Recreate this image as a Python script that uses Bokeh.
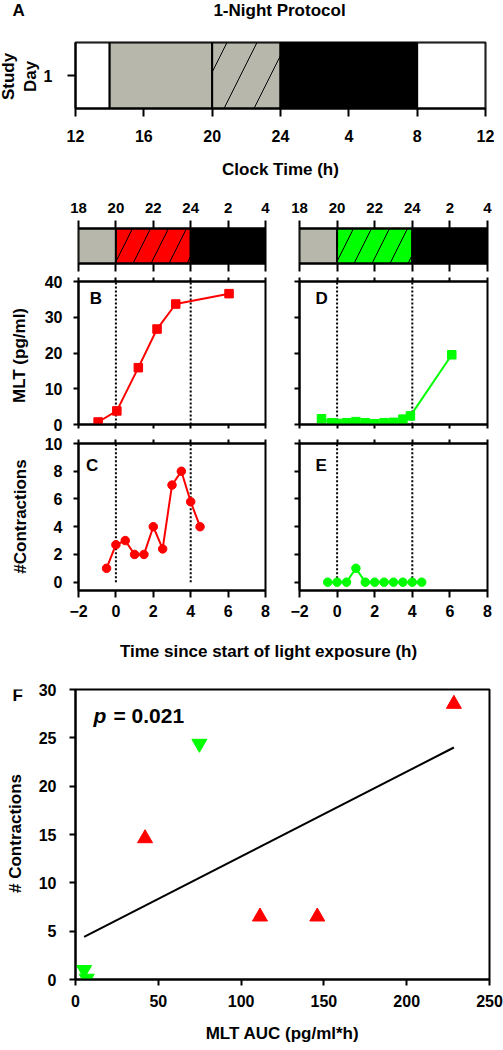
import math
from bokeh.plotting import figure
from bokeh.models import Range1d, LinearAxis, FixedTicker, Label, ColumnDataSource
from bokeh.layouts import column, row
from bokeh.embed import file_html
from bokeh.resources import INLINE
from bokeh.core.properties import value

FONT = "Liberation Sans"
GRAY = "#b7b7ab"
RED = "#ff0000"
GREEN = "#00ff00"

# ---------------- data ----------------
# Panel A: 1-night protocol (clock hours, 24 = midnight, 28 = 4 h, 32 = 8 h)
a_start = [12, 14, 20, 24, 32]
a_end = [14, 20, 24, 32, 36]
a_kind = ["none", "dim", "dim_light", "dark", "none"]
a_ticks = [12, 16, 20, 24, 28, 32, 36]
a_tick_labels = ["12", "16", "20", "24", "4", "8", "12"]

# header bars above B/D and C/E (clock hours)
h_start = [18, 20, 24]
h_end = [20, 24, 28]
h_kind = ["dim", "light", "dark"]
h_ticks = [18, 20, 22, 24, 26, 28]
h_tick_labels = ["18", "20", "22", "24", "2", "4"]

# start / end of light exposure (h since start)
light_window = [0, 4]
t_ticks = [-2, 0, 2, 4, 6, 8]

# B: melatonin, red light
b_t = [-0.95, 0.05, 1.2, 2.2, 3.2, 6.05]
b_mlt = [0.7, 3.8, 15.9, 26.7, 33.7, 36.6]
# D: melatonin, green light
d_t = [-0.83, -0.3, 0.0, 0.5, 1.0, 1.5, 2.0, 2.5, 3.0, 3.5, 3.9, 6.1]
d_mlt = [1.6, 0.5, 0.3, 0.5, 0.8, 0.5, 0.2, 0.5, 0.6, 1.5, 2.4, 19.5]
# C: contractions, red light
c_t = [-0.5, 0.0, 0.5, 1.0, 1.5, 2.0, 2.5, 3.0, 3.5, 4.0, 4.5]
c_n = [1.0, 2.7, 3.0, 2.0, 2.0, 4.0, 2.4, 7.0, 8.0, 5.8, 4.0]
# E: contractions, green light
e_t = [-0.5, 0.0, 0.5, 1.0, 1.5, 2.0, 2.5, 3.0, 3.5, 4.0, 4.5]
e_n = [0, 0, 0, 1, 0, 0, 0, 0, 0, 0, 0]

# F: contractions vs melatonin AUC
f_red_auc = [228.5, 42.0, 111.4, 146.0]
f_red_n = [28.5, 14.6, 6.5, 6.5]
f_green_auc = [74.8, 5.2, 6.8]
f_green_n = [24.4, 1.0, 0.1]
fit_auc = [5.2, 228.5]
fit_n = [4.4, 24.0]
f_xticks = [0, 50, 100, 150, 200, 250]
f_yticks = [0, 5, 10, 15, 20, 25, 30]


# ---------------- helpers ----------------
def make_fig(width, height, xr, yr, left, right, top, bottom):
    p = figure(width=width, height=height, x_range=Range1d(*xr), y_range=Range1d(*yr),
               x_axis_location=None, y_axis_location=None, toolbar_location=None,
               output_backend="svg", tools="", title=None, min_border=0,
               min_border_left=left, min_border_right=right,
               min_border_top=top, min_border_bottom=bottom)
    p.grid.visible = False
    p.outline_line_color = "black"
    p.outline_line_width = 2
    p.background_fill_color = "white"
    p.border_fill_color = "white"
    return p


def strip(width, height, x0, x1, y_top, y_bottom):
    # plain text area; its frame maps page pixels (y downwards)
    p = figure(width=width, height=height, x_range=Range1d(x0, x1), y_range=Range1d(y_bottom, y_top),
               x_axis_location=None, y_axis_location=None, toolbar_location=None,
               output_backend="svg", tools="", title=None, min_border=0,
               min_border_left=0, min_border_right=0, min_border_top=0, min_border_bottom=0)
    p.grid.visible = False
    p.outline_line_color = None
    p.background_fill_color = "white"
    p.border_fill_color = "white"
    return p


def gtext(p, x, y, txt, size="17px", align="center", angle=0.0, style="bold"):
    p.text(x=[x], y=[y], text=[txt], angle=angle, text_font=value(FONT),
           text_font_style=style, text_font_size=size, text_align=align,
           text_baseline="middle", text_color="black")


def add_axis(p, place, ticks, labels=None, tick_out=5, tick_in=0, size="16px",
             standoff=5, axis_label=None, al_standoff=5, al_size="17px"):
    ax = LinearAxis(ticker=FixedTicker(ticks=ticks, minor_ticks=[]))
    ax.axis_line_width = 2
    ax.axis_line_color = "black"
    ax.major_tick_line_width = 2
    ax.major_tick_line_color = "black"
    ax.major_tick_out = tick_out
    ax.major_tick_in = tick_in
    ax.minor_tick_line_color = None
    ax.major_label_text_font = FONT
    ax.major_label_text_font_style = "bold"
    ax.major_label_text_color = "black"
    ax.major_label_text_font_size = size
    ax.major_label_standoff = standoff
    if labels == "none":
        ax.major_label_overrides = {t: "" for t in ticks}
        ax.major_label_text_font_size = "0px"
        ax.major_label_standoff = 0
    elif labels is not None:
        ax.major_label_overrides = {t: l for t, l in zip(ticks, labels)}
    if axis_label is not None:
        ax.axis_label = axis_label
        ax.axis_label_text_font = FONT
        ax.axis_label_text_font_style = "bold"
        ax.axis_label_text_font_size = al_size
        ax.axis_label_text_color = "black"
        ax.axis_label_standoff = al_standoff
    p.add_layout(ax, place)
    return ax


def inner_text(p, x, y, txt, size="17px", style="bold"):
    p.add_layout(Label(x=x, y=y, text=txt, text_font=FONT, text_font_style=style,
                       text_font_size=size, text_align="left", text_baseline="middle",
                       text_color="black"))


def bar_source(start, end, kind, light_color):
    fills = {"none": "white", "dim": GRAY, "dim_light": GRAY, "light": light_color, "dark": "black"}
    hatches = {"none": " ", "dim": " ", "dim_light": "/", "light": "/", "dark": " "}
    return ColumnDataSource(dict(left=start, right=end,
                                 fill=[fills[k] for k in kind],
                                 hatch=[hatches[k] for k in kind]))


VERT = math.pi / 2

# ---------------- panel A ----------------
sA = strip(503, 24, 0, 503, 0, 24)
gtext(sA, 12, 10, "A", size="17px", align="left")
gtext(sA, 279, 10, "1-Night Protocol", size="17px", align="center")

gA = strip(40, 161, 0, 40, 42, 108)      # frame is aligned with panel A's frame
gtext(gA, 8, 76, "Study", angle=VERT)
gtext(gA, 30, 76, "Day", angle=VERT)

pA = make_fig(463, 161, (12, 36), (0.5, 1.5), 33, 18, 18, 77)
srcA = bar_source(a_start, a_end, a_kind, GRAY)
pA.quad(left="left", right="right", bottom=0.5, top=1.5, source=srcA,
        fill_color="fill", hatch_pattern="hatch", hatch_color="black",
        hatch_scale=60, hatch_weight=1, line_color="black", line_width=2)
add_axis(pA, "below", a_ticks, labels=a_tick_labels, tick_out=8, size="16px",
         standoff=13, axis_label="Clock Time (h)", al_standoff=15)
add_axis(pA, "left", [1], labels=["1"], tick_out=8, size="16px", standoff=15)


# ---------------- header bars ----------------
def header(width, left, right, light_color):
    p = make_fig(width, 88, (18, 28), (0, 1), left, right, 43, 10)
    src = bar_source(h_start, h_end, h_kind, light_color)
    p.quad(left="left", right="right", bottom=0, top=1, source=src,
           fill_color="fill", hatch_pattern="hatch", hatch_color="black",
           hatch_scale=36, hatch_weight=1, line_color="black", line_width=2)
    add_axis(p, "above", h_ticks, labels=h_tick_labels, tick_out=8, size="15px", standoff=8)
    add_axis(p, "below", h_ticks, labels="none", tick_out=8)
    return p


hL = header(275, 78, 10, RED)
hR = header(228, 24, 16, GREEN)


# ---------------- B / D ----------------
def mlt_fig(width, left, right, t, v, color, show_labels, name, lx):
    p = make_fig(width, 160, (-2, 8), (0, 40), left, right, 8, 9)
    p.segment(x0=light_window, y0=[0, 0], x1=light_window, y1=[40, 40],
              line_color="black", line_width=2, line_dash="2 2")
    p.line(t, v, line_color=color, line_width=2)
    p.scatter(t, v, marker="square", size=8.5, fill_color=color, line_color=color)
    if show_labels:
        add_axis(p, "left", [0, 10, 20, 30, 40], tick_out=5, size="16px", standoff=11)
    else:
        add_axis(p, "left", [0, 10, 20, 30, 40], labels="none", tick_out=5)
    add_axis(p, "above", t_ticks, labels="none", tick_out=4)
    add_axis(p, "below", t_ticks, labels="none", tick_out=4)
    inner_text(p, lx, 35.2, name)
    return p


gB = strip(30, 160, 0, 30, 281, 424)      # aligned with panel B's frame
gtext(gB, 19, 355, "MLT (pg/ml)", angle=VERT)
pB = mlt_fig(245, 48, 10, b_t, b_mlt, RED, True, "B", -1.4)
pD = mlt_fig(228, 24, 16, d_t, d_mlt, GREEN, False, "D", -1.15)


# ---------------- C / E ----------------
def con_fig(width, left, right, t, v, color, show_labels, name, lx):
    p = make_fig(width, 192, (-2, 8), (-0.6, 10), left, right, 10, 35)
    p.segment(x0=light_window, y0=[0, 0], x1=light_window, y1=[10, 10],
              line_color="black", line_width=2, line_dash="2 2")
    p.line(t, v, line_color=color, line_width=2)
    p.scatter(t, v, marker="circle", size=8.5, fill_color=color, line_color=color)
    if show_labels:
        add_axis(p, "left", [0, 2, 4, 6, 8, 10], tick_out=5, size="16px", standoff=11)
    else:
        add_axis(p, "left", [0, 2, 4, 6, 8, 10], labels="none", tick_out=5)
    add_axis(p, "above", t_ticks, labels="none", tick_out=4)
    add_axis(p, "below", t_ticks, tick_out=7, size="16px", standoff=7)
    inner_text(p, lx, 8.4, name)
    return p


gC = strip(30, 192, 0, 30, 443, 590)      # aligned with panel C's frame
gtext(gC, 19.5, 516, "#Contractions", angle=VERT)
pC = con_fig(245, 48, 10, c_t, c_n, RED, True, "C", -1.6)
pE = con_fig(228, 24, 16, e_t, e_n, GREEN, False, "E", -1.15)

# shared x-axis title of C/E
sT = strip(503, 55, 0, 503, 625, 680)
gtext(sT, 268, 651, "Time since start of light exposure (h)", align="center")


# ---------------- F ----------------
gF = strip(30, 368, 0, 30, 689, 979)      # aligned with panel F's frame
gtext(gF, 12, 695, "F", align="left")
gtext(gF, 14.5, 833, "# Contractions", angle=VERT)

pF = make_fig(473, 368, (0, 250), (0, 30), 45, 14, 9, 69)
pF.line(fit_auc, fit_n, line_color="black", line_width=2)
pF.scatter(f_red_auc, f_red_n, marker="triangle", size=15, fill_color=RED, line_color=RED)
pF.scatter(f_green_auc, f_green_n, marker="inverted_triangle", size=15,
           fill_color=GREEN, line_color=GREEN)
add_axis(pF, "below", f_xticks, tick_out=6, size="16px", standoff=9,
         axis_label="MLT AUC (pg/ml*h)", al_standoff=14)
add_axis(pF, "left", f_yticks, tick_out=6, size="16px", standoff=13)
inner_text(pF, 10.9, 27.3, "p", size="21px", style="bold italic")
inner_text(pF, 22.9, 27.3, "= 0.021", size="21px")

layout = column(sA, row(gA, pA), row(hL, hR), row(gB, pB, pD), row(gC, pC, pE), sT, row(gF, pF))

open("out.html", "w").write(file_html(layout, INLINE))
